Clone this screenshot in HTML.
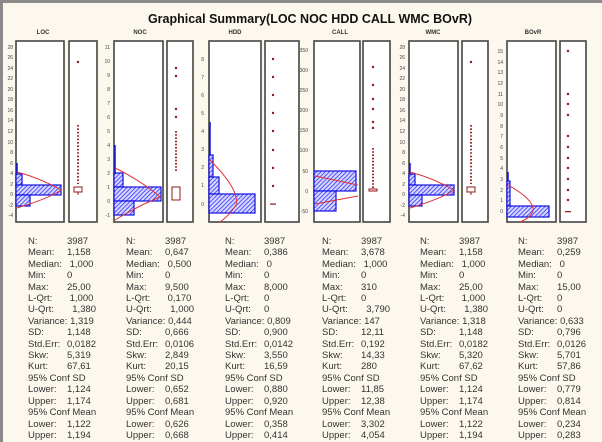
<!DOCTYPE html>
<html><head><meta charset="utf-8"><style>
body{margin:0;background:#fff}
#w{position:relative;width:602px;height:442px;background:#fdf8ee;overflow:hidden;font-family:"Liberation Sans",sans-serif}
.col{position:absolute;top:236px;font-size:9.5px;line-height:11.4px;color:#333}
.col div{white-space:nowrap}
.col b{font-weight:normal;display:inline-block;width:39px}
</style></head><body><div id="w">
<svg width="602" height="442" style="position:absolute;left:0;top:0" font-family="Liberation Sans, sans-serif">
<defs><pattern id="h" width="3" height="3" patternUnits="userSpaceOnUse" patternTransform="rotate(45)"><rect width="3" height="3" fill="#d8d8ff"/><line x1="0" y1="0" x2="0" y2="3" stroke="#3030ff" stroke-width="1.6"/></pattern></defs>
<rect x="0" y="0" width="602" height="3" fill="#8a8a8a"/><rect x="0" y="0" width="3" height="442" fill="#8a8a8a"/>
<text x="310" y="23" font-size="12.5" font-weight="bold" text-anchor="middle" fill="#111">Graphical Summary(LOC NOC HDD CALL WMC BOvR)</text>
<g font-size="6" font-weight="bold" fill="#333" text-anchor="middle"><text x="43" y="34">LOC</text><text x="140" y="34">NOC</text><text x="235" y="34">HDD</text><text x="340" y="34">CALL</text><text x="433" y="34">WMC</text><text x="533" y="34">BOvR</text></g>
<g fill="#fff" stroke="#444" stroke-width="1.6">
<rect x="16" y="41" width="48" height="181"/><rect x="69" y="41" width="28" height="181"/>
<rect x="114" y="41" width="49" height="181"/><rect x="167" y="41" width="26" height="181"/>
<rect x="209" y="41" width="52" height="181"/><rect x="265" y="41" width="34" height="181"/>
<rect x="314" y="41" width="46" height="181"/><rect x="363" y="41" width="27" height="181"/>
<rect x="409" y="41" width="49" height="181"/><rect x="462" y="41" width="26" height="181"/>
<rect x="507" y="41" width="49" height="181"/><rect x="560" y="41" width="26" height="181"/>
</g>
<g font-size="5" fill="#444" text-anchor="end">
<text x="13" y="49">28</text><text x="13" y="59">26</text><text x="13" y="70">24</text><text x="13" y="80">22</text><text x="13" y="91">20</text><text x="13" y="101">18</text><text x="13" y="112">16</text><text x="13" y="122">14</text><text x="13" y="133">12</text><text x="13" y="144">10</text><text x="13" y="154">8</text><text x="13" y="165">6</text><text x="13" y="175">4</text><text x="13" y="186">2</text><text x="13" y="196">0</text><text x="13" y="207">-2</text><text x="13" y="217">-4</text>
<text x="110" y="49">11</text><text x="110" y="63">10</text><text x="110" y="77">9</text><text x="110" y="91">8</text><text x="110" y="105">7</text><text x="110" y="119">6</text><text x="110" y="133">5</text><text x="110" y="147">4</text><text x="110" y="161">3</text><text x="110" y="175">2</text><text x="110" y="189">1</text><text x="110" y="203">0</text><text x="110" y="217">-1</text>
<text x="204" y="61">8</text><text x="204" y="79">7</text><text x="204" y="97">6</text><text x="204" y="115">5</text><text x="204" y="133">4</text><text x="204" y="151">3</text><text x="204" y="169">2</text><text x="204" y="187">1</text><text x="204" y="206">0</text>
<text x="308" y="52">350</text><text x="308" y="72">300</text><text x="308" y="92">250</text><text x="308" y="112">200</text><text x="308" y="132">150</text><text x="308" y="152">100</text><text x="308" y="173">50</text><text x="308" y="193">0</text><text x="308" y="213">-50</text>
<text x="405" y="49">28</text><text x="405" y="59">26</text><text x="405" y="70">24</text><text x="405" y="80">22</text><text x="405" y="91">20</text><text x="405" y="101">18</text><text x="405" y="112">16</text><text x="405" y="122">14</text><text x="405" y="133">12</text><text x="405" y="144">10</text><text x="405" y="154">8</text><text x="405" y="165">6</text><text x="405" y="175">4</text><text x="405" y="186">2</text><text x="405" y="196">0</text><text x="405" y="207">-2</text><text x="405" y="217">-4</text>
<text x="503" y="53">15</text><text x="503" y="64">14</text><text x="503" y="74">13</text><text x="503" y="85">12</text><text x="503" y="96">11</text><text x="503" y="106">10</text><text x="503" y="117">9</text><text x="503" y="128">8</text><text x="503" y="138">7</text><text x="503" y="149">6</text><text x="503" y="160">5</text><text x="503" y="170">4</text><text x="503" y="181">3</text><text x="503" y="192">2</text><text x="503" y="202">1</text><text x="503" y="213">0</text>
</g>
<g fill="url(#h)" stroke="#1010e0" stroke-width="1.2">
<rect x="16" y="174" width="6" height="11"/><rect x="16" y="185" width="45" height="10"/><rect x="16" y="195" width="14" height="11"/>
<rect x="114" y="173" width="9" height="14"/><rect x="114" y="187" width="47" height="14"/><rect x="114" y="201" width="20" height="14"/>
<rect x="209" y="155" width="4" height="22"/><rect x="209" y="177" width="10" height="17"/><rect x="209" y="194" width="46" height="19"/>
<rect x="314" y="171" width="42" height="20"/><rect x="314" y="191" width="22" height="20"/>
<rect x="409" y="174" width="6" height="11"/><rect x="409" y="185" width="45" height="10"/><rect x="409" y="195" width="13" height="11"/>
<rect x="507" y="181" width="3" height="25"/><rect x="507" y="206" width="42" height="11"/>
</g>
<g stroke="#1010e0" stroke-width="1.5"><line x1="17" y1="163" x2="17" y2="174"/><line x1="115" y1="145" x2="115" y2="173"/><line x1="210" y1="122" x2="210" y2="155"/><line x1="410" y1="163" x2="410" y2="174"/><line x1="508" y1="172" x2="508" y2="181"/></g>
<g fill="none" stroke="#e03030" stroke-width="1">
<path d="M17,172 Q40,178 61,190 Q50,198 17,208"/>
<path d="M115,168 Q140,180 160,197 Q140,205 115,220"/>
<path d="M210,160 Q240,190 236,205 Q230,215 220,222"/>
<path d="M315,176 L358,185 M315,204 L358,196"/>
<path d="M410,172 Q433,178 454,190 Q443,198 410,208"/>
<path d="M508,185 Q535,200 533,211 Q530,218 520,222"/>
</g>
<g fill="#901818">
<circle cx="78" cy="62" r="1.2"/><path d="M78,125V184" stroke="#901818" stroke-width="1.8" stroke-dasharray="1.6,1.8"/>
<circle cx="176" cy="68" r="1.2"/><circle cx="176" cy="76" r="1.2"/><circle cx="176" cy="109" r="1.2"/><circle cx="176" cy="117" r="1.2"/><path d="M176,131V172" stroke="#901818" stroke-width="1.8" stroke-dasharray="1.6,1.6"/>
<circle cx="273" cy="59" r="1.2"/><circle cx="273" cy="77" r="1.2"/><circle cx="273" cy="95" r="1.2"/><circle cx="273" cy="113" r="1.2"/><circle cx="273" cy="131" r="1.2"/><circle cx="273" cy="150" r="1.2"/><circle cx="273" cy="168" r="1.2"/><circle cx="273" cy="186" r="1.2"/><rect x="270" y="203.5" width="6" height="1.2"/>
<circle cx="373" cy="67" r="1.2"/><circle cx="373" cy="85" r="1.2"/><circle cx="373" cy="99" r="1.2"/><circle cx="373" cy="109" r="1.2"/><circle cx="373" cy="122" r="1.2"/><circle cx="373" cy="128" r="1.2"/><path d="M373,148V188" stroke="#901818" stroke-width="1.8" stroke-dasharray="1.6,1.6"/>
<circle cx="471" cy="62" r="1.2"/><path d="M471,125V184" stroke="#901818" stroke-width="1.8" stroke-dasharray="1.6,1.8"/>
<circle cx="568" cy="51" r="1.2"/><circle cx="568" cy="94" r="1.2"/><circle cx="568" cy="104" r="1.2"/><circle cx="568" cy="115" r="1.2"/><circle cx="568" cy="136" r="1.2"/><circle cx="568" cy="147" r="1.2"/><circle cx="568" cy="158" r="1.2"/><circle cx="568" cy="168" r="1.2"/><circle cx="568" cy="179" r="1.2"/><circle cx="568" cy="190" r="1.2"/><circle cx="568" cy="200" r="1.2"/><rect x="565" y="211" width="6" height="1.2"/>
</g>
<g fill="none" stroke="#901818" stroke-width="1">
<rect x="74" y="187" width="8" height="5"/><line x1="78" y1="192" x2="78" y2="195"/>
<rect x="172" y="187" width="8" height="13"/>
<rect x="369" y="189" width="8" height="2"/>
<rect x="467" y="187" width="8" height="5"/><line x1="471" y1="192" x2="471" y2="195"/>
</g>
</svg>
<div class="col" style="left:28px"><div><b>N:</b>3987</div><div><b>Mean:</b>1,158</div><div><b>Median:</b>&nbsp;1,000</div><div><b>Min:</b>0</div><div><b>Max:</b>25,00</div><div><b>L-Qrt:</b>&nbsp;1,000</div><div><b>U-Qrt:</b>&nbsp;&nbsp;1,380</div><div>Variance: 1,319</div><div><b>SD:</b>1,148</div><div><b>Std.Err:</b>0,0182</div><div><b>Skw:</b>5,319</div><div><b>Kurt:</b>67,61</div><div>95% Conf SD</div><div><b>Lower:</b>1,124</div><div><b>Upper:</b>1,174</div><div>95% Conf Mean</div><div><b>Lower:</b>1,122</div><div><b>Upper:</b>1,194</div></div>
<div class="col" style="left:126px"><div><b>N:</b>3987</div><div><b>Mean:</b>0,647</div><div><b>Median:</b>&nbsp;0,500</div><div><b>Min:</b>0</div><div><b>Max:</b>9,500</div><div><b>L-Qrt:</b>&nbsp;0,170</div><div><b>U-Qrt:</b>&nbsp;&nbsp;1,000</div><div>Variance: 0,444</div><div><b>SD:</b>0,666</div><div><b>Std.Err:</b>0,0106</div><div><b>Skw:</b>2,849</div><div><b>Kurt:</b>20,15</div><div>95% Conf SD</div><div><b>Lower:</b>0,652</div><div><b>Upper:</b>0,681</div><div>95% Conf Mean</div><div><b>Lower:</b>0,626</div><div><b>Upper:</b>0,668</div></div>
<div class="col" style="left:225px"><div><b>N:</b>3987</div><div><b>Mean:</b>0,386</div><div><b>Median:</b>&nbsp;0</div><div><b>Min:</b>0</div><div><b>Max:</b>8,000</div><div><b>L-Qrt:</b>0</div><div><b>U-Qrt:</b>0</div><div>Variance: 0,809</div><div><b>SD:</b>0,900</div><div><b>Std.Err:</b>0,0142</div><div><b>Skw:</b>3,550</div><div><b>Kurt:</b>16,59</div><div>95% Conf SD</div><div><b>Lower:</b>0,880</div><div><b>Upper:</b>0,920</div><div>95% Conf Mean</div><div><b>Lower:</b>0,358</div><div><b>Upper:</b>0,414</div></div>
<div class="col" style="left:322px"><div><b>N:</b>3987</div><div><b>Mean:</b>3,678</div><div><b>Median:</b>&nbsp;1,000</div><div><b>Min:</b>0</div><div><b>Max:</b>310</div><div><b>L-Qrt:</b>0</div><div><b>U-Qrt:</b>&nbsp;&nbsp;3,790</div><div>Variance: 147</div><div><b>SD:</b>12,11</div><div><b>Std.Err:</b>0,192</div><div><b>Skw:</b>14,33</div><div><b>Kurt:</b>280</div><div>95% Conf SD</div><div><b>Lower:</b>11,85</div><div><b>Upper:</b>12,38</div><div>95% Conf Mean</div><div><b>Lower:</b>3,302</div><div><b>Upper:</b>4,054</div></div>
<div class="col" style="left:420px"><div><b>N:</b>3987</div><div><b>Mean:</b>1,158</div><div><b>Median:</b>&nbsp;1,000</div><div><b>Min:</b>0</div><div><b>Max:</b>25,00</div><div><b>L-Qrt:</b>&nbsp;1,000</div><div><b>U-Qrt:</b>&nbsp;&nbsp;1,380</div><div>Variance: 1,318</div><div><b>SD:</b>1,148</div><div><b>Std.Err:</b>0,0182</div><div><b>Skw:</b>5,320</div><div><b>Kurt:</b>67,62</div><div>95% Conf SD</div><div><b>Lower:</b>1,124</div><div><b>Upper:</b>1,174</div><div>95% Conf Mean</div><div><b>Lower:</b>1,122</div><div><b>Upper:</b>1,194</div></div>
<div class="col" style="left:518px"><div><b>N:</b>3987</div><div><b>Mean:</b>0,259</div><div><b>Median:</b>&nbsp;0</div><div><b>Min:</b>0</div><div><b>Max:</b>15,00</div><div><b>L-Qrt:</b>0</div><div><b>U-Qrt:</b>0</div><div>Variance: 0,633</div><div><b>SD:</b>0,796</div><div><b>Std.Err:</b>0,0126</div><div><b>Skw:</b>5,701</div><div><b>Kurt:</b>57,86</div><div>95% Conf SD</div><div><b>Lower:</b>0,779</div><div><b>Upper:</b>0,814</div><div>95% Conf Mean</div><div><b>Lower:</b>0,234</div><div><b>Upper:</b>0,283</div></div>
</div></body></html>
